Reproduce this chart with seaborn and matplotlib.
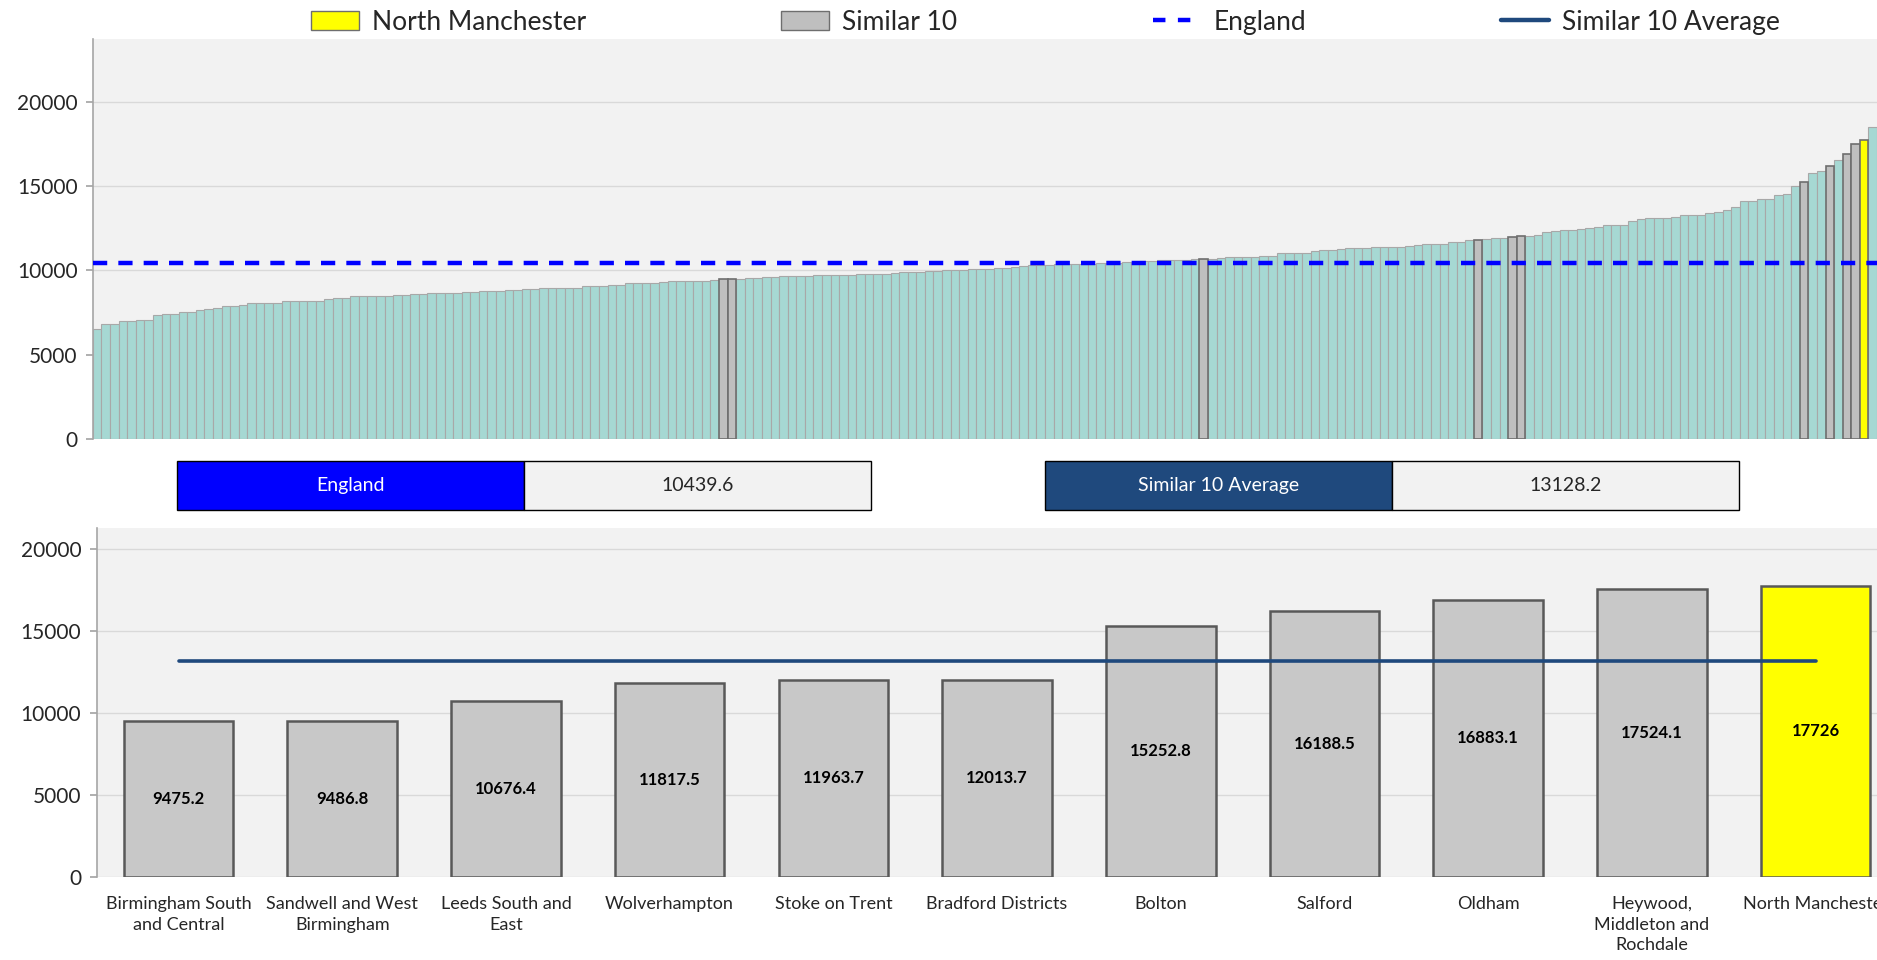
import matplotlib.pyplot as plt
import numpy as np
import pandas as pd
import seaborn as sns
from matplotlib.lines import Line2D
from matplotlib.patches import Patch

# summary values
england_value = 10439.6
similar_avg = 13128.2
focus_name = "North Manchester"
focus_value = 17726

# the 10 most similar CCGs (lower chart)
similar_names = [
    "Birmingham South and Central", "Sandwell and West Birmingham", "Leeds South and East",
    "Wolverhampton", "Stoke on Trent", "Bradford Districts", "Bolton", "Salford",
    "Oldham", "Heywood, Middleton and Rochdale",
]
similar_values = [9475.2, 9486.8, 10676.4, 11817.5, 11963.7, 12013.7,
                  15252.8, 16188.5, 16883.1, 17524.1]
tick_labels = [
    "Birmingham South\nand Central", "Sandwell and West\nBirmingham", "Leeds South and\nEast",
    "Wolverhampton", "Stoke on Trent", "Bradford Districts", "Bolton", "Salford",
    "Oldham", "Heywood,\nMiddleton and\nRochdale", "North Manchester",
]

# all CCGs in England, sorted (upper chart)
all_ccg_values = [
    6500, 6840, 6840, 7000, 7000, 7080, 7080, 7370, 7440, 7440,
    7550, 7550, 7630, 7690, 7750, 7870, 7870, 7970, 8070, 8090,
    8090, 8090, 8200, 8200, 8200, 8200, 8200, 8300, 8340, 8360,
    8460, 8500, 8500, 8500, 8500, 8520, 8540, 8580, 8590, 8660,
    8660, 8660, 8660, 8700, 8700, 8760, 8760, 8760, 8860, 8860,
    8900, 8900, 8960, 8960, 8960, 8960, 8960, 9100, 9100, 9100,
    9150, 9150, 9230, 9230, 9230, 9230, 9290, 9370, 9370, 9390,
    9390, 9400, 9450, 9475.2, 9486.8, 9500, 9569, 9569, 9590, 9610,
    9648, 9648, 9648, 9648, 9708, 9708, 9708, 9750, 9750, 9770,
    9806, 9806, 9806, 9826, 9885, 9885, 9905, 9984, 9984, 10024,
    10024, 10024, 10063, 10063, 10083, 10122, 10162, 10221, 10241, 10320,
    10320, 10320, 10380, 10380, 10380, 10380, 10380, 10459, 10459, 10459,
    10478, 10478, 10538, 10577, 10597, 10597, 10637, 10637, 10656, 10676.4,
    10680, 10716, 10795, 10795, 10815, 10815, 10834, 10874, 11012, 11012,
    11032, 11050, 11131, 11190, 11230, 11269, 11309, 11348, 11348, 11388,
    11388, 11388, 11388, 11427, 11487, 11585, 11585, 11585, 11664, 11664,
    11784, 11817.5, 11882, 11921, 11921, 11963.7, 12013.7, 12021, 12080, 12297,
    12336, 12377, 12377, 12475, 12514, 12554, 12690, 12690, 12690, 12930,
    13069, 13088, 13128, 13128, 13187, 13286, 13286, 13286, 13385, 13464,
    13602, 13760, 14096, 14096, 14215, 14215, 14472, 14531, 15006, 15252.8,
    15777, 15895, 16188.5, 16548, 16883.1, 17524.1, 17726, 18525,
]

CYAN = "#A6D8D3"
GREY = "#BFBFBF"
YELLOW = "#FFFF00"
DARK_BLUE = "#1F497D"
BG = "#F2F2F2"

sns.set_theme(style="white")
plt.rcParams["font.family"] = ["Lato", "DejaVu Sans"]


def group_of(v):
    if v == focus_value:
        return focus_name
    if v in similar_values:
        return "Similar 10"
    return "Other"


top = pd.DataFrame({
    "rank": range(len(all_ccg_values)),
    "value": all_ccg_values,
})
top["group"] = top["value"].map(group_of)

bottom = pd.DataFrame({
    "name": similar_names + [focus_name],
    "value": similar_values + [focus_value],
    "group": ["Similar 10"] * len(similar_names) + [focus_name],
})

fig = plt.figure(figsize=(18.77, 9.6), dpi=100)
ax_top = fig.add_axes([0.0495, 0.5427, 0.9505, 0.4162])
ax_bot = fig.add_axes([0.0515, 0.0869, 0.9594, 0.3631])

# ---- upper chart: every CCG
top_order = ["Other", "Similar 10", focus_name]
sns.barplot(data=top, x="rank", y="value", hue="group", hue_order=top_order,
            palette={"Other": CYAN, "Similar 10": GREY, focus_name: YELLOW},
            dodge=False, width=1, saturation=1, errorbar=None, legend=False, ax=ax_top)
edge_style = {"Other": ("#A8A8A8", 0.8), "Similar 10": ("#6E6E6E", 1.2), focus_name: ("#6E6E6E", 1.2)}
for cont, grp in zip(ax_top.containers, top_order):
    ec, lw = edge_style[grp]
    for p in cont:
        p.set_edgecolor(ec)
        p.set_linewidth(lw)

ax_top.axhline(england_value, color="#0000FF", lw=3.2, dashes=(3.2, 2.5), zorder=5)
ax_top.set_xlim(-0.5, len(all_ccg_values) - 0.5)
ax_top.set_ylim(0, 23700)
ax_top.set_yticks(np.arange(0, 20001, 5000))
ax_top.set_xticks([])

# ---- lower chart: similar 10 + North Manchester
sns.barplot(data=bottom, x="name", y="value", hue="group", hue_order=["Similar 10", focus_name],
            palette={"Similar 10": "#C8C8C8", focus_name: YELLOW},
            dodge=False, width=0.67, saturation=1, errorbar=None, legend=False, ax=ax_bot)
for p in ax_bot.patches:
    p.set_edgecolor("#595959")
    p.set_linewidth(1.8)
for cont in ax_bot.containers:
    ax_bot.bar_label(cont, labels=[f"{p.get_height():g}" for p in cont], label_type="center",
                     fontsize=12, fontweight="bold", color="black")
ax_bot.plot(np.arange(len(bottom)), [similar_avg] * len(bottom), color=DARK_BLUE, lw=2.6, zorder=5)
ax_bot.set_xlim(-0.5, len(bottom) - 0.5)
ax_bot.set_ylim(0, 21250)
ax_bot.set_yticks(np.arange(0, 20001, 5000))
ax_bot.set_xticks(np.arange(len(bottom)))
ax_bot.set_xticklabels(tick_labels, fontsize=13, linespacing=1.35)
ax_bot.tick_params(axis="x", length=0, pad=14)

for ax in (ax_top, ax_bot):
    ax.set_facecolor(BG)
    ax.set_xlabel("")
    ax.set_ylabel("")
    ax.grid(axis="y", color="#D9D9D9", lw=1)
    ax.set_axisbelow(True)
    for s in ("top", "right", "bottom"):
        ax.spines[s].set_visible(False)
    ax.spines["left"].set_color("#A6A6A6")
    ax.spines["left"].set_linewidth(1.2)
    ax.tick_params(axis="y", left=True, length=5, color="#A6A6A6", labelsize=15, pad=6)

# ---- summary boxes between the charts
ax_tab = fig.add_axes([0, 0, 1, 1])
ax_tab.axis("off")
boxes = [
    ("England", england_value, "#0000FF", [0.0943, 0.4688, 0.3698, 0.051]),
    ("Similar 10 Average", similar_avg, DARK_BLUE, [0.5567, 0.4688, 0.3698, 0.051]),
]
for label, val, col, bbox in boxes:
    tab = ax_tab.table(cellText=[[label, f"{val}"]], cellColours=[[col, BG]],
                       cellLoc="center", bbox=bbox)
    tab.auto_set_font_size(False)
    tab.set_fontsize(14)
    for cell in tab.get_celld().values():
        cell.set_edgecolor("black")
        cell.set_linewidth(1)
    tab[0, 0].get_text().set_color("white")

# ---- legend
handles = [
    Patch(facecolor=YELLOW, edgecolor="#6E6E6E"),
    Patch(facecolor=GREY, edgecolor="#6E6E6E"),
    Line2D([], [], color="#0000FF", lw=3.2, dashes=(2.8, 2.8)),
    Line2D([], [], color=DARK_BLUE, lw=3.2),
]
labels = [focus_name, "Similar 10", "England", "Similar 10 Average"]
fig.legend(handles, labels, loc="center", bbox_to_anchor=(0.557, 0.977), ncol=4,
           frameon=False, fontsize=19, columnspacing=7.4, handlelength=1.8,
           handletextpad=0.5, borderpad=0)

fig.savefig("out.png", dpi=100)
